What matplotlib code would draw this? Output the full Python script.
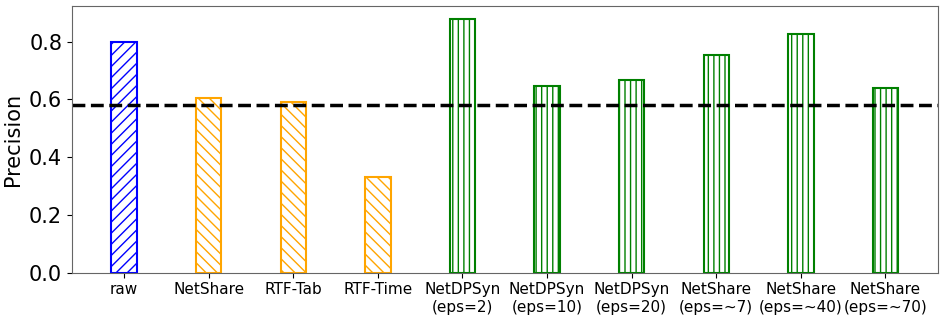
import matplotlib
matplotlib.use("Agg")
import matplotlib.pyplot as plt

labels = ["raw", "NetShare", "RTF-Tab", "RTF-Time",
          "NetDPSyn\n(eps=2)", "NetDPSyn\n(eps=10)", "NetDPSyn\n(eps=20)",
          "NetShare\n(eps=~7)", "NetShare\n(eps=~40)", "NetShare\n(eps=~70)"]
precision = [0.797, 0.603, 0.592, 0.332, 0.878, 0.645, 0.668, 0.752, 0.826, 0.638]
colors = ["blue", "orange", "orange", "orange",
          "green", "green", "green", "green", "green", "green"]
hatches = ["///", "\\\\\\", "\\\\\\", "\\\\\\", "|||", "|||", "|||", "|||", "|||", "|||"]
baseline = 0.582

fig, ax = plt.subplots(figsize=(9.47, 3.2), dpi=100)
x = range(len(labels))
for i in x:
    ax.bar(i, precision[i], width=0.3, color="none", edgecolor=colors[i],
           hatch=hatches[i], linewidth=1.5)
ax.axhline(baseline, color="black", linestyle="--", linewidth=2.5)

ax.set_xticks(list(x))
ax.set_xticklabels(labels, fontsize=11)
ax.tick_params(axis="y", labelsize=15)
ax.set_ylabel("Precision", fontsize=15)
ax.set_yticks([0.0, 0.2, 0.4, 0.6, 0.8])
for s in ax.spines.values():
    s.set_color("#666666")

plt.subplots_adjust(left=0.076, right=0.99, top=0.98, bottom=0.148)
plt.savefig("out.png")
